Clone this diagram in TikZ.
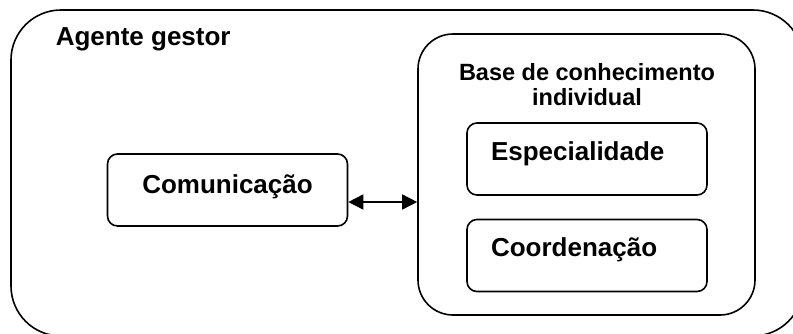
\documentclass[tikz,border=0pt]{standalone}
\usepackage{fontspec}
\setmainfont{Liberation Sans}
\usepackage{tikz}
\usetikzlibrary{arrows.meta}

\begin{document}
\begin{tikzpicture}[x=1pt, y=-1pt, line width=1.6pt, >={Triangle[length=15pt,width=15pt]},
  frame node/.style={draw, rectangle, inner sep=0pt},
  part node/.style={draw, rectangle, rounded corners=10pt, minimum width=240pt, minimum height=72pt, font=\fontsize{26}{30}\selectfont\bfseries},
  title node/.style={inner sep=0pt, align=center}]

\useasboundingbox (0,0) rectangle (793,333);

\node[frame node, rounded corners=50pt, minimum width=792pt, minimum height=326pt](agente) at (407,173) {};
\node[title node, anchor=base west, font=\fontsize{26}{30}\selectfont\bfseries](agentetitle) at (55,45) {Agente gestor};

\node[frame node, rounded corners=35pt, minimum width=337pt, minimum height=281pt](base) at (586.5,174.5) {};
\node[title node, anchor=base, font=\fontsize{23.5}{25}\selectfont\bfseries](basetitle) at (587,105) {Base de conhecimento\\individual};

\node[part node, text height=19pt, text depth=13pt](com) at (227.5,190) {Comunica\c{c}\~ao};
\node[part node, text width=192pt, align=left, text height=19pt, text depth=17pt](esp) at (587,159) {Especialidade};
\node[part node, text width=192pt, align=left, text height=19pt, text depth=18pt](coord) at (587,255.5) {Coordena\c{c}\~ao};

\coordinate (link) at ([yshift=-12pt]com.east);
\draw[<->] (link) -- (link -| base.west);

\end{tikzpicture}
\end{document}
